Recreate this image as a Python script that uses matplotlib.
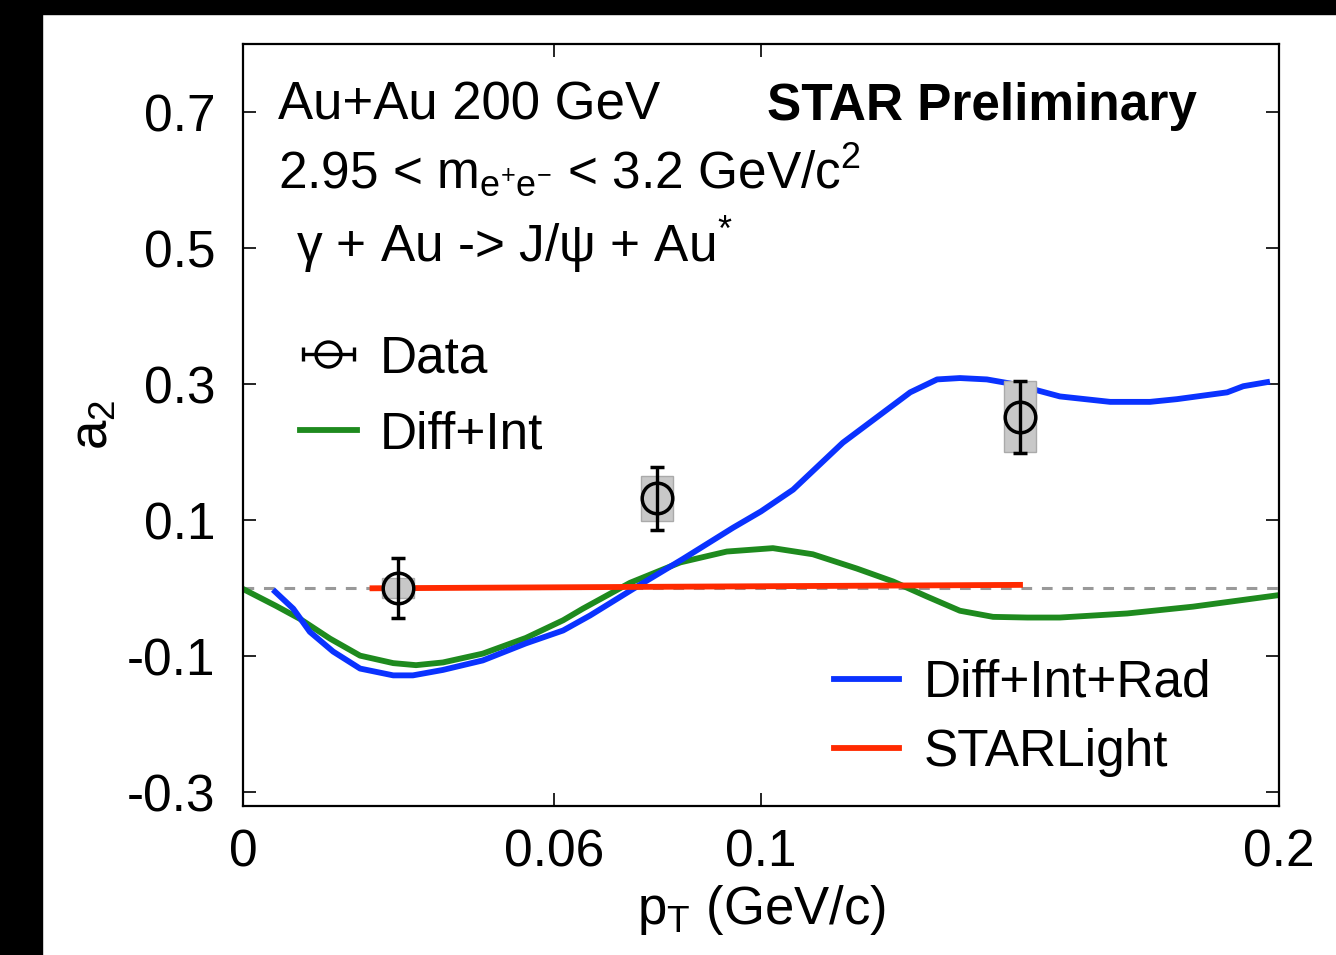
import numpy as np
import matplotlib
matplotlib.use('Agg')
import matplotlib.pyplot as plt
from matplotlib.patches import Rectangle

plt.rcParams['font.family'] = ['Liberation Sans', 'DejaVu Sans']
plt.rcParams['mathtext.fontset'] = 'custom'
plt.rcParams['mathtext.rm'] = 'Liberation Sans'
plt.rcParams['mathtext.it'] = 'Liberation Sans:italic'
plt.rcParams['axes.unicode_minus'] = False

# Diff+Int+Rad (blue)
pt_rad = [0.0062, 0.0097, 0.0129, 0.0174, 0.0226, 0.0290, 0.0328, 0.0386, 0.0463,
          0.0546, 0.0618, 0.0670, 0.0753, 0.0849, 0.0946, 0.1000, 0.1062,
          0.1158, 0.1288, 0.1340, 0.1384, 0.1436, 0.1481, 0.1533, 0.1577, 0.1674,
          0.1751, 0.1803, 0.1900, 0.1931, 0.1977]
a2_rad = [-0.005, -0.030, -0.064, -0.093, -0.118, -0.128, -0.128, -0.120, -0.106,
          -0.081, -0.062, -0.040, -0.001, 0.043, 0.089, 0.113, 0.145,
          0.214, 0.288, 0.307, 0.309, 0.307, 0.301, 0.291, 0.282, 0.274,
          0.274, 0.278, 0.288, 0.297, 0.303]

# Diff+Int (green)
pt_int = [0.0, 0.0064, 0.0110, 0.0168, 0.0226, 0.0290, 0.0334, 0.0386, 0.0463,
          0.0546, 0.0618, 0.0656, 0.0747, 0.0844, 0.0934, 0.1023, 0.1100,
          0.1185, 0.1255, 0.1320, 0.1384, 0.1448, 0.1514, 0.1577, 0.1707, 0.1834,
          0.2000]
a2_int = [-0.001, -0.026, -0.045, -0.074, -0.099, -0.110, -0.113, -0.109, -0.096,
          -0.073, -0.047, -0.030, 0.008, 0.038, 0.054, 0.059, 0.050,
          0.029, 0.010, -0.012, -0.033, -0.042, -0.043, -0.043, -0.037, -0.027,
          -0.010]

# STARLight (red)
pt_sl = [0.025, 0.150]
a2_sl = [0.0, 0.005]

# data points
pt_data = np.array([0.030, 0.080, 0.150])
a2_data = np.array([0.0, 0.132, 0.252])
stat_err = np.array([0.044, 0.047, 0.053])
sys_err = np.array([0.015, 0.033, 0.052])

xticks = [0, 0.06, 0.1, 0.2]
xtick_labels = ['0', '0.06', '0.1', '0.2']
yticks = [-0.3, -0.1, 0.1, 0.3, 0.5, 0.7]
ytick_labels = ['-0.3', '-0.1', '0.1', '0.3', '0.5', '0.7']

Fontsize = 37
blue = '#0a32ff'
green = '#1e8a1e'
red = '#ff2a00'

fig = plt.figure(figsize=(13.36, 9.55), dpi=100)
fig.patch.set_facecolor('white')
# black strips on the left and top edges
fig.add_artist(Rectangle((0, 0), 42 / 1336, 1, transform=fig.transFigure,
                         color='black', zorder=0))
fig.add_artist(Rectangle((0, 1 - 14 / 955), 1, 14 / 955, transform=fig.transFigure,
                         color='black', zorder=0))

ax = fig.add_axes([243 / 1336, 1 - 806 / 955, 1036 / 1336, 762 / 955])

ax.axhline(0, color='#999999', lw=2.2, ls=(0, (3.5, 3.2)), zorder=1)
ax.plot(pt_int, a2_int, color=green, lw=4.2, zorder=2)
ax.plot(pt_rad, a2_rad, color=blue, lw=4.2, zorder=2)
ax.plot(pt_sl, a2_sl, color=red, lw=4.2, zorder=2)

# systematic boxes
ax.bar(pt_data, 2 * sys_err, bottom=a2_data - sys_err, width=0.0062,
       color='#c8c8c8', edgecolor='#aaaaaa', linewidth=1.0, zorder=3)
ax.errorbar(pt_data, a2_data, yerr=stat_err, fmt='o', mfc='none', mec='black',
            ms=22, mew=2.5, ecolor='black', elinewidth=2.4, capsize=5,
            capthick=3.5, zorder=4)

# legend proxies
h_data = ax.errorbar([np.nan], [np.nan], xerr=[np.nan], fmt='o', mfc='none',
                     mec='black', ms=18, mew=2.4, ecolor='black', elinewidth=2.4,
                     capsize=5, capthick=3.5)
h_int, = ax.plot([], [], color=green, lw=4.2)
h_rad, = ax.plot([], [], color=blue, lw=4.2)
h_sl, = ax.plot([], [], color=red, lw=4.2)

leg1 = ax.legend([h_data, h_int], ['Data', 'Diff+Int'], loc='center left',
                 bbox_to_anchor=(0.055, 0.537), frameon=False, fontsize=Fontsize,
                 handlelength=1.1, handletextpad=0.46, borderpad=0,
                 borderaxespad=0, labelspacing=0.53)
ax.add_artist(leg1)
ax.legend([h_rad, h_sl], ['Diff+Int+Rad', 'STARLight'], loc='center left',
          bbox_to_anchor=(0.5705, 0.1155), frameon=False, fontsize=Fontsize,
          handlelength=1.27, handletextpad=0.48, borderpad=0,
          borderaxespad=0, labelspacing=0.40)

ax.text(0.0338, 0.9003, 'Au+Au 200 GeV', transform=ax.transAxes,
        fontsize=38, va='baseline', ha='left')
ax.text(0.5058, 0.9003, 'STAR Preliminary', transform=ax.transAxes,
        fontsize=37, fontweight='bold', va='baseline', ha='left')
ax.text(0.0338, 0.811,
        r'2.95 < m$_{\mathregular{e^{+}e^{-}}}$ < 3.2 GeV/c$^{\mathregular{2}}$',
        transform=ax.transAxes, fontsize=37, va='baseline', ha='left')
ax.text(0.0512, 0.714, 'γ + Au -> J/ψ + Au$^{\\mathregular{*}}$',
        transform=ax.transAxes, fontsize=37, va='baseline', ha='left')

ax.set_xlim(0, 0.2)
ax.set_ylim(-0.32, 0.8)
ax.set_xticks(xticks)
ax.set_xticklabels(xtick_labels)
ax.set_yticks(yticks)
ax.set_yticklabels(ytick_labels)
ax.tick_params(direction='in', top=True, right=True, length=9.5, width=1.2,
               labelsize=Fontsize)
ax.tick_params(axis='y', pad=20)
ax.tick_params(axis='x', pad=16)
for sp in ax.spines.values():
    sp.set_linewidth(1.6)

ax.set_xlabel(r'p$_{\mathregular{T}}$ (GeV/c)', fontsize=38, labelpad=4)
ax.set_ylabel(r'a$_{\mathregular{2}}$', fontsize=38, labelpad=6)

fig.savefig('out.png', dpi=100)
